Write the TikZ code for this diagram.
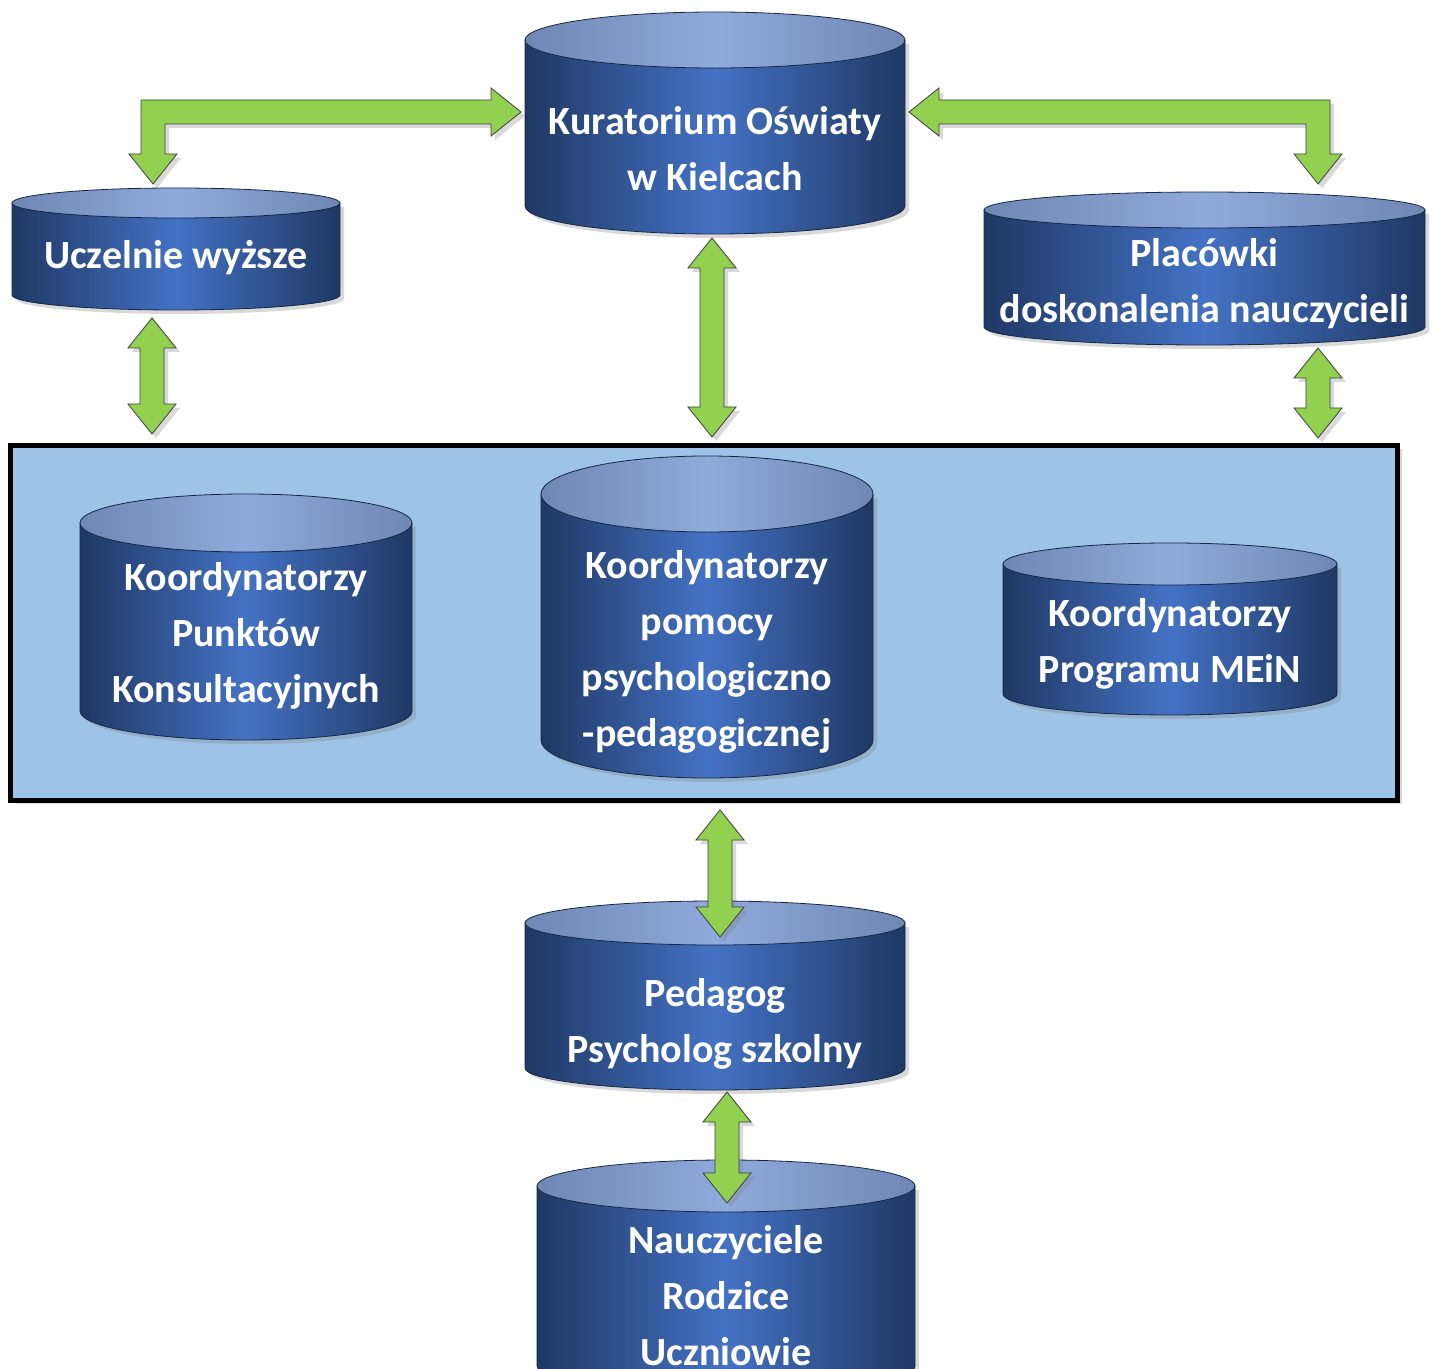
\documentclass[tikz,border=0pt]{standalone}
\usepackage{fontspec}
\setmainfont{Carlito}
\usepackage{tikz}
\usetikzlibrary{calc,shadows}
\definecolor{cyledge}{HTML}{1F3864}
\definecolor{cylmid}{HTML}{4472C4}
\definecolor{capedge}{HTML}{6F87B3}
\definecolor{capmid}{HTML}{8FAADC}
\definecolor{panelblue}{HTML}{9DC3E6}
\definecolor{arrowgreen}{HTML}{92D050}
\tikzstyle{softshadow}=[drop shadow={opacity=0.3,shadow xshift=2pt,shadow yshift=-2pt}]
\tikzstyle{cylbody}=[draw=cyledge!70!black,thin,left color=cyledge,right color=cyledge,middle color=cylmid,softshadow]
\tikzstyle{cyltop}=[draw=cyledge!70!black,thin,left color=capedge,right color=capedge,middle color=capmid]
\tikzstyle{cyltext}=[text=white,font=\fontsize{20}{28}\selectfont\bfseries,align=center,inner sep=0pt]
\tikzstyle{blockarrow}=[draw=black!75,thin,fill=arrowgreen,line join=miter,softshadow]
\tikzstyle{panel}=[draw=black,line width=2.5pt,fill=panelblue,minimum width=693.5pt,minimum height=177.25pt,inner sep=0pt,softshadow]
% [text shift] name, left, right, top, cap bottom, bottom, text
\newcommand\cylinder[8][0]{%
  \pgfmathsetmacro\cylcx{(#3+#4)/2}%
  \pgfmathsetmacro\cylrx{(#4-#3)/2}%
  \pgfmathsetmacro\cylry{(#6-#5)/2}%
  \pgfmathsetmacro\cylyc{#5+\cylry}%
  \pgfmathsetmacro\cylyb{#7-\cylry}%
  \pgfmathsetmacro\cylyt{(#6+#7)/2-6+#1}%
  \path[cylbody] (#3,\cylyc) -- (#3,\cylyb) arc[start angle=180,end angle=0,x radius=\cylrx,y radius=\cylry] -- (#4,\cylyc) -- cycle;
  \path[cyltop] (\cylcx,\cylyc) ellipse[x radius=\cylrx,y radius=\cylry];
  \node[cyltext] (#2) at (\cylcx,\cylyt) {#8};
}
% upper end, lower end
\newcommand\vlink[2]{%
  \path[blockarrow] let \p1=(#1), \p2=(#2) in
    (\x1,\y1) -- (\x1+12pt,\y1-15pt) -- (\x1+6pt,\y1-15pt) -- (\x1+6pt,\y2+15pt)
    -- (\x1+12pt,\y2+15pt) -- (\x1,\y2) -- (\x1-12pt,\y2+15pt) -- (\x1-6pt,\y2+15pt)
    -- (\x1-6pt,\y1-15pt) -- (\x1-12pt,\y1-15pt) -- cycle;
}
% side end, lower end, 1 = turns left / -1 = turns right
\newcommand\elbowlink[3]{%
  \path[blockarrow] let \p1=(#1), \p2=(#2) in
    (\x1,\y1) -- (\x1-#3*15pt,\y1+12pt) -- (\x1-#3*15pt,\y1+6pt) -- (\x2-#3*6pt,\y1+6pt)
    -- (\x2-#3*6pt,\y2+15pt) -- (\x2-#3*12pt,\y2+15pt) -- (\x2,\y2) -- (\x2+#3*12pt,\y2+15pt)
    -- (\x2+#3*6pt,\y2+15pt) -- (\x2+#3*6pt,\y1-6pt) -- (\x1-#3*15pt,\y1-6pt) -- (\x1-#3*15pt,\y1-12pt) -- cycle;
}

\begin{document}
\begin{tikzpicture}[x=0.5pt,y=-0.5pt]
\useasboundingbox (0,0) rectangle (1436,1369);

\node[panel] (zespol) at (704,622.75) {};

\cylinder[4]{kuratorium}{525}{905}{12}{68}{234}{Kuratorium Oświaty\\w Kielcach}
\cylinder{uczelnie}{12}{340}{188}{218}{310}{Uczelnie wyższe}
\cylinder[3]{placowki}{984}{1425}{192}{228}{345}{Placówki\\doskonalenia nauczycieli}
\cylinder[-4]{punkty}{80}{412}{494}{552}{740}{Koordynatorzy\\Punktów\\Konsultacyjnych}
\cylinder[3]{pomoc}{541}{873}{456}{532}{778}{Koordynatorzy\\pomocy\\psychologiczno\\-pedagogicznej}
\cylinder{program}{1003}{1337}{543}{585}{715}{Koordynatorzy\\Programu MEiN}
\cylinder[12]{pedagog}{525}{905}{901}{945}{1090}{Pedagog\\Psycholog szkolny}
\cylinder{szkola}{537}{915}{1160}{1212}{1392}{Nauczyciele\\Rodzice\\Uczniowie}

\coordinate (kuratorium-w) at (521,112);
\coordinate (kuratorium-e) at (909,112);
\coordinate (kuratorium-s) at (712,238);
\coordinate (uczelnie-n) at (153,184);
\coordinate (uczelnie-s) at (152,318);
\coordinate (placowki-n) at (1318,184);
\coordinate (placowki-s) at (1318,348);
\coordinate (zespol-n1) at (152,434);
\coordinate (zespol-n2) at (712,437);
\coordinate (zespol-n3) at (1318,438);
\coordinate (zespol-s) at (720,810);
\coordinate (pedagog-n) at (720,937);
\coordinate (pedagog-s) at (727,1092);
\coordinate (szkola-n) at (727,1203);

\elbowlink{kuratorium-w}{uczelnie-n}{1}
\elbowlink{kuratorium-e}{placowki-n}{-1}
\vlink{uczelnie-s}{zespol-n1}
\vlink{kuratorium-s}{zespol-n2}
\vlink{placowki-s}{zespol-n3}
\vlink{zespol-s}{pedagog-n}
\vlink{pedagog-s}{szkola-n}
\end{tikzpicture}
\end{document}
